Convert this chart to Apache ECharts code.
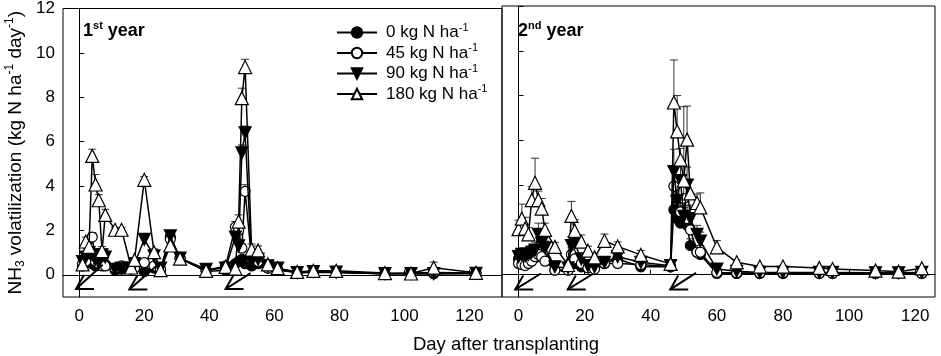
<!DOCTYPE html>
<html>
<head>
<meta charset="utf-8">
<script src="https://cdn.jsdelivr.net/npm/echarts@6/dist/echarts.min.js"></script>
<style>
  html, body { margin: 0; padding: 0; background: #fff; }
  #chart { width: 941px; height: 356px; }
</style>
</head>
<body>
<div id="chart"></div>
<script>
// treatments (legend names, "-1" superscript added in formatter)
const treatments = ["0 kg N ha", "45 kg N ha", "90 kg N ha", "180 kg N ha"];
const xTicks = [0, 20, 40, 60, 80, 100, 120];
const yTicks = [0, 2, 4, 6, 8, 10, 12];

// 1st year
const days1 = [1, 2, 3, 4, 5, 6, 7, 8, 11, 13, 16, 17, 20, 23, 25, 28, 31, 39, 45, 48, 49, 50, 51, 53, 55, 58, 61, 67, 72, 79, 94, 102, 109, 122];
const y1N0 = [0.4, 0.5, 0.6, 0.5, 0.4, 0.45, 0.5, 0.45, 0.2, 0.25, 0.25, 0.3, 0.15, 0.3, 0.2, 1.7, 0.75, 0.15, 0.2, 0.5, 0.6, 0.7, 0.5, 0.4, 0.5, 0.3, 0.2, 0.1, 0.1, 0.1, 0.05, 0.05, 0.05, 0.05];
const y1N45 = [0.5, 0.6, 1.0, 1.7, 0.6, 0.5, 0.4, 0.4, 0.3, 0.4, 0.3, 0.3, 0.55, 0.4, 0.25, 1.6, 0.75, 0.2, 0.4, 2.15, 2.0, 1.2, 3.76, 0.7, 0.6, 0.3, 0.25, 0.1, 0.12, 0.12, 0.05, 0.08, 0.1, 0.08];
const y1N90 = [0.6, 0.8, 1.0, 0.9, 0.7, 0.6, 0.9, 0.8, 0.25, 0.3, 0.3, 0.5, 1.6, 0.85, 0.3, 1.75, 0.75, 0.25, 0.3, 1.7, 1.3, 5.5, 6.4, 0.6, 0.7, 0.4, 0.3, 0.1, 0.15, 0.12, 0.05, 0.05, 0.05, 0.07];
const y1N180 = [0.47, 1.5, 1.26, 5.36, 4.07, 3.36, 1.07, 2.7, 2.03, 2.03, 0.33, 0.67, 4.28, 1.02, 0.21, 1.32, 0.73, 0.18, 0.36, 0.28, 2.4, 7.96, 9.36, 1.14, 1.1, 0.47, 0.3, 0.13, 0.18, 0.18, 0.08, 0.06, 0.32, 0.09];
const e1N0 = [0.1, 0.1, 0.1, 0.1, 0.1, 0.1, 0.1, 0.1, 0.05, 0.05, 0.05, 0.05, 0.05, 0.05, 0.05, 0.1, 0.05, 0.05, 0.05, 0.1, 0.1, 0.1, 0.1, 0.1, 0.1, 0.05, 0.05, 0.03, 0.03, 0.03, 0.02, 0.02, 0.02, 0.02];
const e1N45 = [0.1, 0.15, 0.2, 0.2, 0.1, 0.1, 0.1, 0.1, 0.05, 0.05, 0.05, 0.05, 0.1, 0.1, 0.05, 0.15, 0.1, 0.05, 0.1, 0.25, 0.2, 0.2, 0.3, 0.1, 0.1, 0.05, 0.05, 0.03, 0.03, 0.03, 0.02, 0.02, 0.02, 0.02];
const e1N90 = [0.15, 0.15, 0.2, 0.2, 0.15, 0.1, 0.15, 0.15, 0.05, 0.05, 0.05, 0.1, 0.2, 0.15, 0.05, 0.15, 0.1, 0.05, 0.1, 0.2, 0.2, 0.35, 0.3, 0.1, 0.1, 0.05, 0.05, 0.03, 0.03, 0.03, 0.02, 0.02, 0.02, 0.02];
const e1N180 = [0.1, 0.2, 0.15, 0.3, 0.45, 0.25, 0.2, 0.25, 0.1, 0.1, 0.05, 0.1, 0.15, 0.15, 0.05, 0.1, 0.1, 0.1, 0.1, 0.1, 0.3, 0.45, 0.35, 0.25, 0.2, 0.15, 0.15, 0.05, 0.05, 0.05, 0.05, 0.05, 0.25, 0.05];
const arrows1 = [[-1, -0.64, 7.2, 0.45], [15.4, -0.66, 23.7, 0.4], [45, -0.64, 52.7, 0.08]];

// 2nd year
const days2 = [0, 1, 2, 3, 4, 5, 6, 7, 8, 11, 15, 16, 17, 19, 21, 23, 26, 30, 37, 46, 47, 48, 49, 50, 51, 52, 54, 55, 60, 66, 73, 80, 91, 95, 108, 115, 122];
const y2N0 = [0.7, 0.6, 0.55, 0.6, 0.7, 0.75, 0.9, 0.8, 0.7, 0.2, 0.2, 0.6, 0.5, 0.35, 0.3, 0.3, 0.5, 0.7, 0.35, 0.35, 2.9, 2.5, 2.3, 2.5, 2.2, 1.3, 1.0, 0.9, 0.05, 0.05, 0.05, 0.05, 0.05, 0.05, 0.05, 0.05, 0.05];
const y2N45 = [0.5, 0.45, 0.4, 0.5, 0.6, 0.8, 0.9, 0.8, 0.6, 0.2, 0.2, 0.9, 0.7, 0.5, 0.3, 0.25, 0.5, 0.5, 0.45, 0.35, 3.95, 3.4, 2.8, 3.4, 2.5, 2.0, 1.0, 1.0, 0.1, 0.08, 0.07, 0.08, 0.06, 0.06, 0.05, 0.05, 0.06];
const y2N90 = [0.8, 0.9, 0.85, 0.9, 1.0, 1.1, 1.8, 1.4, 1.2, 0.35, 0.3, 1.3, 1.4, 0.7, 0.4, 0.35, 0.55, 0.8, 0.55, 0.4, 4.6, 3.3, 4.2, 2.6, 4.0, 2.5, 1.8, 1.5, 0.25, 0.15, 0.1, 0.1, 0.1, 0.1, 0.08, 0.08, 0.1];
const y2N180 = [2.03, 2.5, 2.06, 1.8, 3.33, 4.1, 3.33, 2.95, 2.0, 1.24, 0.43, 2.62, 1.96, 1.47, 1.07, 0.77, 1.51, 1.26, 0.88, 0.48, 7.69, 6.4, 5.14, 4.2, 6.03, 3.63, 3.2, 3.0, 1.22, 0.55, 0.36, 0.36, 0.3, 0.25, 0.18, 0.13, 0.28];
const e2N0 = [0.2, 0.15, 0.15, 0.15, 0.2, 0.2, 0.2, 0.2, 0.15, 0.05, 0.05, 0.2, 0.15, 0.1, 0.1, 0.1, 0.1, 0.15, 0.1, 0.1, 0.6, 0.5, 0.5, 0.5, 0.5, 0.3, 0.2, 0.2, 0.02, 0.02, 0.02, 0.02, 0.02, 0.02, 0.02, 0.02, 0.02];
const e2N45 = [0.15, 0.15, 0.1, 0.15, 0.2, 0.25, 0.3, 0.3, 0.2, 0.05, 0.05, 0.3, 0.25, 0.15, 0.1, 0.1, 0.15, 0.15, 0.1, 0.1, 0.8, 0.6, 0.6, 0.8, 0.6, 0.5, 0.3, 0.3, 0.03, 0.03, 0.02, 0.02, 0.02, 0.02, 0.02, 0.02, 0.02];
const e2N90 = [0.3, 0.3, 0.3, 0.3, 0.3, 0.35, 0.5, 0.4, 0.3, 0.1, 0.1, 0.4, 0.4, 0.2, 0.1, 0.1, 0.15, 0.2, 0.15, 0.1, 1.0, 0.8, 0.8, 0.7, 0.8, 0.6, 0.4, 0.4, 0.05, 0.03, 0.03, 0.03, 0.03, 0.03, 0.02, 0.02, 0.03];
const e2N180 = [0.4, 0.65, 0.5, 0.3, 0.6, 1.1, 0.4, 0.45, 0.3, 0.2, 0.1, 0.65, 0.5, 0.3, 0.2, 0.15, 0.3, 0.2, 0.2, 0.1, 1.9, 1.6, 0.5, 3.3, 1.5, 0.6, 0.4, 0.65, 0.3, 0.1, 0.05, 0.05, 0.05, 0.05, 0.05, 0.05, 0.05];
const arrows2 = [[-1, -0.66, 6.8, 0.05], [14.9, -0.66, 22.7, 0.05], [45.9, -0.66, 53.7, 0.08]];

const FONT = "Liberation Sans";

// marker style per treatment
const markers = [
  { symbol: "circle", size: 10, rotate: 0, fill: "#000" },
  { symbol: "circle", size: 10, rotate: 0, fill: "#fff" },
  { symbol: "triangle", size: 12, rotate: 180, fill: "#000" },
  { symbol: "triangle", size: 13, rotate: 0, fill: "#fff" },
];

function lineSeries(axisIdx, days, valueSets) {
  return valueSets.map((vals, k) => ({
    type: "line",
    name: treatments[k],
    xAxisIndex: axisIdx,
    yAxisIndex: axisIdx,
    data: days.map((d, i) => [d, vals[i]]),
    symbol: markers[k].symbol,
    symbolSize: markers[k].size,
    symbolRotate: markers[k].rotate,
    showAllSymbol: true,
    itemStyle: { color: markers[k].fill, borderColor: "#000", borderWidth: 1.2 },
    lineStyle: { color: "#000", width: 1.5 },
    emphasis: { disabled: true },
    z: 3 + k,
  }));
}

function renderError(params, api) {
  const x = api.value(0);
  const y = api.value(1);
  const base = api.coord([x, y]);
  const top = api.coord([x, y + api.value(2)]);
  const st = { stroke: "#333", lineWidth: 1 };
  return {
    type: "group",
    children: [
      { type: "line", shape: { x1: base[0], y1: base[1], x2: top[0], y2: top[1] }, style: st },
      { type: "line", shape: { x1: top[0] - 4, y1: top[1], x2: top[0] + 4, y2: top[1] }, style: st },
    ],
  };
}

function errorSeries(axisIdx, days, valueSets, errSets) {
  const data = [];
  valueSets.forEach((vals, k) => {
    days.forEach((d, i) => data.push([d, vals[i], errSets[k][i]]));
  });
  return {
    type: "custom",
    xAxisIndex: axisIdx,
    yAxisIndex: axisIdx,
    silent: true,
    renderItem: renderError,
    data: data,
    z: 2,
  };
}

function renderArrow(params, api) {
  const tip = api.coord([api.value(0), api.value(1)]);
  const tail = api.coord([api.value(2), api.value(3)]);
  const st = { stroke: "#000", lineWidth: 2, fill: null };
  return {
    type: "group",
    children: [
      { type: "line", shape: { x1: tip[0], y1: tip[1], x2: tail[0], y2: tail[1] }, style: st },
      { type: "polyline", shape: { points: [[tip[0] + 18, tip[1]], tip, [tip[0] + 8, tip[1] - 14]] }, style: st },
    ],
  };
}

function arrowSeries(axisIdx, arrows) {
  return {
    type: "custom",
    xAxisIndex: axisIdx,
    yAxisIndex: axisIdx,
    silent: true,
    renderItem: renderArrow,
    encode: { x: [0, 2], y: [1, 3] },
    data: arrows,
    clip: false,
    z: 10,
  };
}

function xAxisCfg(gridIdx, max) {
  return {
    type: "value",
    gridIndex: gridIdx,
    min: -5,
    max: max,
    axisLine: { show: true, lineStyle: { color: "#000", width: 1 } },
    axisTick: { show: true, inside: true, length: 5, customValues: xTicks, lineStyle: { color: "#000" } },
    axisLabel: { customValues: xTicks, color: "#000", fontSize: 17, fontFamily: FONT, margin: 11 },
    splitLine: { show: false },
  };
}

function yAxisCfg(gridIdx, withLabels) {
  const cfg = {
    type: "value",
    gridIndex: gridIdx,
    min: -1,
    max: 12,
    axisLine: { show: true, lineStyle: { color: "#000", width: 1 } },
    axisTick: { show: true, inside: true, length: 5, customValues: yTicks, lineStyle: { color: "#000" } },
    axisLabel: { show: withLabels, customValues: yTicks, color: "#000", fontSize: 17, fontFamily: FONT, margin: 8 },
    splitLine: { show: false },
  };
  if (withLabels) {
    cfg.name = "{n|NH}{sub|3}{n| volatilization (kg N ha}{sup|-1}{n| day}{sup|-1}{n|)}";
    cfg.nameLocation = "middle";
    cfg.nameGap = 36;
    cfg.nameTextStyle = {
      rich: {
        n: { fontSize: 19, fontFamily: FONT, color: "#000", lineHeight: 23 },
        sub: { fontSize: 12, fontFamily: FONT, color: "#000", lineHeight: 12, verticalAlign: "bottom" },
        sup: { fontSize: 12, fontFamily: FONT, color: "#000", lineHeight: 12, verticalAlign: "top" },
      },
    };
  }
  return cfg;
}

const panelRich = {
  b: { fontSize: 18, fontWeight: "bold", fontFamily: FONT, color: "#000", lineHeight: 22 },
  s: { fontSize: 11, fontWeight: "bold", fontFamily: FONT, color: "#000", lineHeight: 11, verticalAlign: "top" },
};

const vals1 = [y1N0, y1N45, y1N90, y1N180];
const errs1 = [e1N0, e1N45, e1N90, e1N180];
const vals2 = [y2N0, y2N45, y2N90, y2N180];
const errs2 = [e2N0, e2N45, e2N90, e2N180];

const chart = echarts.init(document.getElementById("chart"), null, { renderer: "canvas" });
chart.setOption({
  animation: false,
  backgroundColor: "#fff",
  title: [
    { text: "{b|1}{s|st}{b| year}", left: 83, top: 20, padding: 0, textStyle: { rich: panelRich } },
    { text: "{b|2}{s|nd}{b| year}", left: 518, top: 20, padding: 0, textStyle: { rich: panelRich } },
    {
      text: "Day after transplanting",
      left: 506,
      textAlign: "center",
      top: 335,
      padding: 0,
      textStyle: { fontSize: 18.5, fontWeight: "normal", fontFamily: FONT, color: "#000" },
    },
  ],
  legend: {
    data: treatments,
    orient: "vertical",
    left: 336,
    top: 22,
    padding: 0,
    itemWidth: 40,
    itemHeight: 13,
    itemGap: 1.5,
    selectedMode: false,
    formatter: (name) => "{t|" + name + "}{s|-1}",
    textStyle: {
      rich: {
        t: { fontSize: 17, fontFamily: FONT, color: "#000", lineHeight: 21, padding: [0, 0, 0, 4] },
        s: { fontSize: 11, fontFamily: FONT, color: "#000", lineHeight: 11, verticalAlign: "top" },
      },
    },
  },
  grid: [
    { left: 63, top: 6, width: 439, height: 291, show: true, borderColor: "#000", borderWidth: 1 },
    { left: 502, top: 6, width: 433, height: 291, show: true, borderColor: "#000", borderWidth: 1 },
  ],
  xAxis: [xAxisCfg(0, 130), xAxisCfg(1, 126)],
  yAxis: [yAxisCfg(0, true), yAxisCfg(1, false)],
  series: [
    errorSeries(0, days1, vals1, errs1),
    errorSeries(1, days2, vals2, errs2),
    ...lineSeries(0, days1, vals1),
    ...lineSeries(1, days2, vals2),
    arrowSeries(0, arrows1),
    arrowSeries(1, arrows2),
  ],
});
</script>
</body>
</html>
